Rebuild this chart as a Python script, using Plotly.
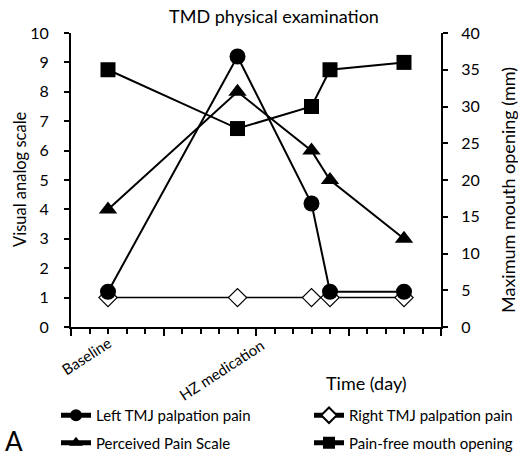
import plotly.graph_objects as go

# ---- data ----
days = [2, 9, 13, 14, 18]
left_tmj = [1.2, 9.2, 4.2, 1.2, 1.2]
right_tmj = [1, 1, 1, 1, 1]
perceived_pain = [4, 8, 6, 5, 3]
mouth_opening = [35, 27, 30, 35, 36]
series_names = ["Left TMJ palpation pain", "Right TMJ palpation pain",
                "Perceived Pain Scale", "Pain-free mouth opening"]
x_labels = ["Baseline", "HZ medication"]

FONT = "Lato"
BLACK = "#000000"

fig = go.Figure()
line = dict(color=BLACK, width=2)

fig.add_trace(go.Scatter(x=days, y=right_tmj, name=series_names[1], mode="lines+markers",
                         line=dict(color=BLACK, width=1.5),
                         marker=dict(symbol="diamond", size=14, color="white",
                                     line=dict(color=BLACK, width=1.2)),
                         legend="legend2", legendgroup="c", legendrank=1))
fig.add_trace(go.Scatter(x=days, y=left_tmj, name=series_names[0], mode="lines+markers",
                         line=line, marker=dict(symbol="circle", size=16, color=BLACK),
                         legend="legend", legendgroup="a", legendrank=1))
fig.add_trace(go.Scatter(x=days, y=perceived_pain, name=series_names[2], mode="lines+markers",
                         line=line, marker=dict(symbol="triangle-up", size=16, color=BLACK),
                         legend="legend", legendgroup="b", legendrank=2))
fig.add_trace(go.Scatter(x=days, y=mouth_opening, name=series_names[3], mode="lines+markers",
                         line=line, marker=dict(symbol="square", size=15, color=BLACK),
                         yaxis="y2", legend="legend2", legendgroup="d", legendrank=2))

axis_common = dict(showgrid=False, zeroline=False, showline=True, linecolor=BLACK,
                   linewidth=2, ticks="outside", tickcolor=BLACK, tickwidth=2,
                   tickfont=dict(family=FONT, size=16, color=BLACK))

legend_common = dict(font=dict(family=FONT, size=15, color=BLACK), bgcolor="rgba(0,0,0,0)",
                     xref="container", yref="container", xanchor="left", yanchor="top",
                     orientation="v", itemsizing="constant", traceorder="grouped",
                     tracegroupgap=5)

fig.update_layout(
    width=518, height=462,
    margin=dict(l=71, r=77, t=33, b=135, autoexpand=False),
    paper_bgcolor="white", plot_bgcolor="white",
    font=dict(family=FONT, color=BLACK),
    title=dict(text="TMD physical examination", x=274 / 518, y=1 - 17 / 462,
               xanchor="center", yanchor="middle", xref="container", yref="container",
               font=dict(family=FONT, size=18, color=BLACK)),
    xaxis=dict(range=[0, 20], showticklabels=False, dtick=5, ticklen=7,
               minor=dict(dtick=1, ticklen=5, ticks="outside", tickcolor=BLACK, tickwidth=2),
               **axis_common),
    yaxis=dict(range=[0, 10], dtick=1, ticklen=5, ticklabelstandoff=12, **axis_common),
    yaxis2=dict(range=[0, 40], dtick=5, ticklen=5, overlaying="y", side="right",
                ticklabelstandoff=10, **axis_common),
    legend=dict(x=56 / 518, y=1 - 399 / 462, **legend_common),
    legend2=dict(x=309 / 518, y=1 - 399 / 462, **legend_common),
    showlegend=True,
)


def px_x(v):
    return (v - 71) / 370


def px_y(v):
    return (327 - v) / 294


common_ann = dict(xref="paper", yref="paper", showarrow=False, xanchor="center", yanchor="middle")
fig.add_annotation(text="Visual analog scale", textangle=-90, x=px_x(20), y=px_y(179),
                   font=dict(family=FONT, size=16.5, color=BLACK), **common_ann)
fig.add_annotation(text="Maximum mouth opening (mm)", textangle=-90, x=px_x(508), y=px_y(190),
                   font=dict(family=FONT, size=18, color=BLACK), **common_ann)
fig.add_annotation(text="Time (day)", x=px_x(366), y=px_y(383),
                   font=dict(family=FONT, size=18, color=BLACK), **common_ann)
fig.add_annotation(text=x_labels[0], textangle=-33, x=px_x(86), y=px_y(356),
                   font=dict(family=FONT, size=15, color=BLACK), **common_ann)
fig.add_annotation(text=x_labels[1], textangle=-33, x=px_x(221), y=px_y(370),
                   font=dict(family=FONT, size=15, color=BLACK), **common_ann)
fig.add_annotation(text="A", x=px_x(14), y=px_y(441),
                   font=dict(family=FONT, size=26, color=BLACK), **common_ann)

fig.write_html("out.html", post_script="document.body.style.margin='0';",
               config={"displayModeBar": False})
